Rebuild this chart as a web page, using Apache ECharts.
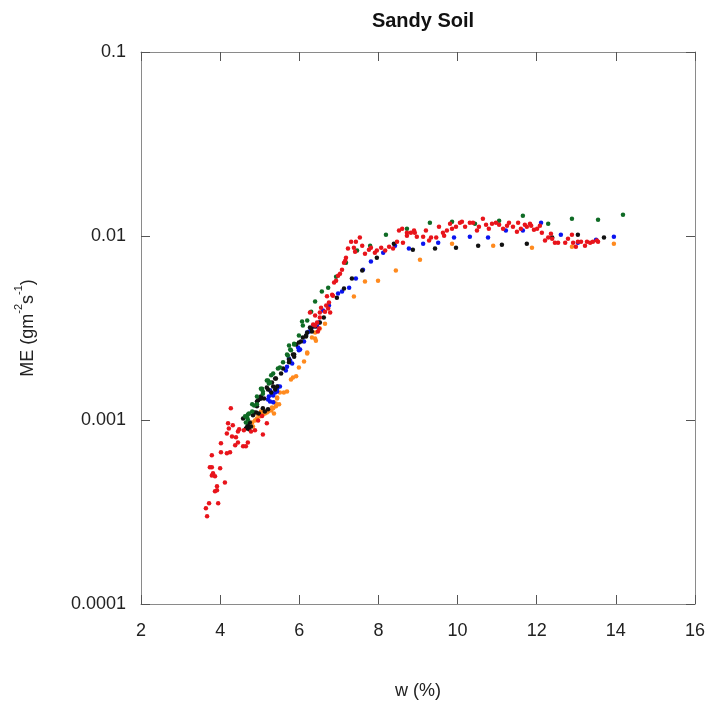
<!DOCTYPE html>
<html>
<head>
<meta charset="utf-8">
<script src="https://cdn.jsdelivr.net/npm/echarts@6/dist/echarts.min.js"></script>
<style>
  html, body { margin: 0; padding: 0; background: #fff; }
  #chart { width: 709px; height: 705px; }
</style>
</head>
<body>
<div id="chart"></div>
<script>
// Moisture content w (%) against evaporation ME (g m^-2 s^-1), five runs on sandy soil.

const xTicks = { min: 2, max: 16, step: 2 };
const yTickLabels = ['0.0001', '0.001', '0.01', '0.1'];

const redPoints = [
  [4.27,0.00116],[4.20,0.00096],[4.32,0.000935],[4.22,0.0009],[4.48,0.00089],[4.45,0.000867],[4.60,0.00088],
  [4.17,0.000845],[4.30,0.000814],[4.40,0.000805],[4.45,0.000755],[4.38,0.000728],[4.70,0.000755],[4.58,0.000719],
  [4.65,0.000719],[4.02,0.000747],[4.02,0.000667],[4.17,0.000659],[4.25,0.000667],[3.79,0.000643],[3.74,0.000553],
  [3.79,0.000553],[4.00,0.000546],[3.82,0.000513],[3.79,0.0005],[3.87,0.000494],[4.12,0.000458],[3.92,0.000436],
  [3.92,0.000415],[3.87,0.00041],[3.72,0.000353],[3.95,0.000353],[3.64,0.000331],[3.67,0.0003],[5.08,0.000835],
  [5.18,0.00096],[4.96,0.000995],[4.88,0.00088],[4.78,0.000867],[5.06,0.00105],
  [6.70,0.0047],[6.75,0.00435],[6.68,0.00419],[6.55,0.00408],[6.65,0.00388],[6.52,0.00384],[6.40,0.0037],
  [6.52,0.00361],[6.45,0.00339],[6.35,0.0033],[6.40,0.00326],[6.50,0.00314],[6.73,0.00403],[6.78,0.00384],
  [6.27,0.00384],[6.47,0.00303],
  [7.53,0.0098],[7.43,0.0093],[7.31,0.0093],[7.59,0.00886],[7.38,0.00864],[7.23,0.00854],[7.41,0.00822],
  [7.66,0.00802],[7.18,0.00762],[7.16,0.00734],[7.13,0.00716],[7.08,0.00656],[7.03,0.00624],[6.98,0.00609],
  [6.93,0.00572],[6.88,0.00558],[6.83,0.0048],[6.85,0.00474],[7.76,0.00843],[7.81,0.00864],[7.91,0.00812],
  [7.96,0.00833],[8.07,0.00864],[8.17,0.00833],[8.27,0.00875],[8.37,0.00854],[8.47,0.0093],[8.62,0.0092],
  [8.52,0.0107],[8.60,0.01096],[8.72,0.01042],[8.72,0.01004],[8.82,0.01042],[8.90,0.0107],[8.92,0.01042],
  [8.97,0.0099],
  [9.13,0.0099],[9.20,0.0107],[9.28,0.00944],[9.33,0.0098],[9.46,0.0098],[9.53,0.01122],[9.63,0.01042],
  [9.66,0.01004],[9.73,0.0107],[9.81,0.01166],[9.86,0.01096],[9.96,0.01122],[10.06,0.0118],
  [10.11,0.01197],[10.19,0.01122],[10.31,0.0118],[10.39,0.0118],[10.49,0.0107],[10.54,0.01122],[10.64,0.01242],
  [10.72,0.0115],[10.79,0.01096],[10.87,0.01166],[10.97,0.0118],[11.05,0.0115],[11.15,0.01096],[11.25,0.01137],
  [11.30,0.0118],[11.40,0.01122],[11.50,0.01055],[11.53,0.0118],[11.60,0.01096],[11.70,0.0115],[11.75,0.01122],
  [11.83,0.01166],[11.86,0.01137],[11.93,0.0108],[12.01,0.01096],[12.08,0.01137],[12.13,0.01042],[12.21,0.00944],
  [12.29,0.0098],[12.36,0.01028],[12.39,0.00967],[12.46,0.0092],[12.54,0.0092],[12.72,0.0092],[12.79,0.00967],
  [12.89,0.01016],[12.92,0.0092],[12.99,0.00875],[13.04,0.0093],[13.12,0.0093],[13.22,0.00886],[13.27,0.0093],
  [13.35,0.0092],[13.42,0.0093],[13.52,0.00944],[13.55,0.0093]
];

const greenPoints = [
  [5.46,0.001905],[5.34,0.00179],[5.21,0.00164],[5.26,0.0016],[5.06,0.00148],[5.08,0.00143],[5.08,0.00139],
  [4.93,0.001216],[4.86,0.0012],[4.81,0.001113],[4.73,0.001086],[4.68,0.001033],[4.70,0.001007],[4.65,0.00097],
  [6.40,0.0044],[6.30,0.00388],[6.20,0.00347],[6.09,0.00326],[5.99,0.00288],[5.87,0.0026],[5.74,0.00254],
  [5.79,0.00239],[5.71,0.00224],[5.59,0.00206],[5.51,0.00193],[5.29,0.00175],[5.18,0.00164],[5.23,0.00158],
  [5.03,0.00148],[4.93,0.00134],[4.81,0.001216],[4.70,0.001072],[4.63,0.001047],
  [6.57,0.00499],[6.07,0.00343],[5.87,0.00257],[5.77,0.00242],[5.69,0.00227],
  [8.19,0.01016],[7.79,0.00886],[7.46,0.00833],[7.18,0.00716],[6.93,0.00601],[6.73,0.00524],
  [8.72,0.01096],[9.30,0.0118],[9.86,0.01197],[10.44,0.01166],[11.05,0.01211],[11.65,0.01288],[12.29,0.01166],
  [12.89,0.01242],[13.55,0.01227],[14.18,0.01305]
];

const blackPoints = [
  [5.41,0.00168],[5.31,0.0016],[5.34,0.00152],[5.18,0.0015],[5.21,0.001466],[5.03,0.00134],[5.01,0.00131],
  [4.93,0.00126],[5.13,0.001113],[4.98,0.001086],[4.83,0.00106],[4.91,0.0011],[4.75,0.00097],[4.70,0.000935],
  [4.68,0.000912],[4.78,0.000923],[4.65,0.0009],[4.73,0.00089],
  [6.30,0.00314],[6.20,0.00299],[6.17,0.00284],[6.04,0.00267],[5.92,0.00257],[5.87,0.00227],[5.74,0.00213],
  [5.74,0.00206],[5.59,0.001905],[5.54,0.00179],[5.39,0.00168],[5.44,0.00152],[5.39,0.001466],[5.29,0.00141],
  [5.11,0.00131],[5.03,0.00131],[4.96,0.00128],[5.08,0.00116],[4.93,0.001186],[5.21,0.001143],[4.86,0.0011],
  [4.58,0.00102],
  [6.62,0.00361],[6.52,0.00339],[6.40,0.00322],[6.27,0.00318],[6.32,0.00303],[6.17,0.00288],[6.09,0.00281],
  [5.99,0.00264],[5.84,0.00227],[5.87,0.00221],
  [8.39,0.00908],[7.96,0.00762],[7.59,0.00649],[7.33,0.00587],[7.13,0.00518],[6.95,0.00462],
  [8.87,0.00843],[9.43,0.00854],[9.96,0.00864],[10.52,0.00886],[11.12,0.00897],[11.75,0.00908],[12.39,0.0098],
  [13.04,0.01016],[13.70,0.0098]
];

const bluePoints = [
  [5.51,0.00152],[5.44,0.00148],[5.39,0.00141],[5.31,0.001377],[5.23,0.00134],[5.26,0.00126],[5.34,0.00125],
  [6.50,0.00339],[6.45,0.00322],[6.20,0.00299],[6.12,0.00267],[5.97,0.00248],[6.02,0.00242],[5.77,0.0021],
  [5.82,0.00203],[5.69,0.00195],[5.66,0.00186],[5.46,0.00152],[5.44,0.00143],[5.26,0.00145],[5.34,0.00136],
  [5.21,0.001294],
  [6.75,0.00419],[6.60,0.00394],[6.35,0.00322],[6.25,0.00303],[5.99,0.00239],[5.74,0.00216],
  [8.77,0.00854],[8.42,0.00886],[8.12,0.00812],[7.81,0.00726],[7.61,0.00656],[7.43,0.00587],[7.26,0.00524],
  [7.08,0.00499],[6.98,0.00487],
  [9.13,0.00908],[9.51,0.0092],[9.91,0.0098],[10.31,0.0099],[10.77,0.0098],[11.22,0.0107],[11.65,0.0107],
  [12.11,0.0118],[12.61,0.01016],[13.04,0.0092],[13.50,0.00955],[13.95,0.0099]
];

const orangePoints = [
  [5.49,0.001216],[5.41,0.001186],[5.34,0.00116],[5.29,0.001127],[5.21,0.001113],[5.13,0.001086],[5.08,0.001072],
  [5.01,0.001047],[4.93,0.00102],[4.88,0.000995],[4.81,0.00097],[4.83,0.000923],[5.03,0.001113],[4.96,0.001072],
  [5.44,0.001327],[5.36,0.00125],
  [6.40,0.00277],[6.20,0.0023],[6.12,0.00208],[5.99,0.00193],[5.92,0.00173],[5.84,0.0017],[5.79,0.00166],
  [5.69,0.00143],[5.61,0.00141],[5.51,0.00141],[5.44,0.00131],[5.41,0.00123],[5.31,0.00117],[5.18,0.0011],
  [5.06,0.001072],[5.11,0.001113],[5.36,0.001086],
  [6.65,0.00334],[6.52,0.00314],[6.40,0.00299],[6.32,0.00281],[6.42,0.0027],[6.20,0.00233],
  [9.05,0.00743],[8.44,0.00649],[7.99,0.00572],[7.66,0.00565],[7.38,0.00469],
  [9.86,0.00908],[10.90,0.00886],[11.88,0.00864],[12.89,0.00875],[13.95,0.00908]
];

const FONT = '"Liberation Sans", Arial, sans-serif';
const frameColor = '#8a8a8a';
const tickColor = '#555';

function scatter(name, data, color) {
  return {
    name: name,
    type: 'scatter',
    data: data,
    symbol: 'circle',
    symbolSize: 4.5,
    itemStyle: { color: color, opacity: 1 },
    emphasis: { disabled: true },
    animation: false
  };
}

const xBase = {
  type: 'value',
  min: xTicks.min,
  max: xTicks.max,
  interval: xTicks.step,
  splitLine: { show: false },
  axisLine: { show: true, onZero: false, lineStyle: { color: frameColor, width: 1 } },
  axisTick: { show: true, inside: true, length: 9, lineStyle: { color: tickColor } }
};

const yBase = {
  type: 'log',
  logBase: 10,
  min: 0.0001,
  max: 0.1,
  splitLine: { show: false },
  minorTick: { show: false },
  axisLine: { show: true, onZero: false, lineStyle: { color: frameColor, width: 1 } },
  axisTick: { show: true, inside: true, length: 9, lineStyle: { color: tickColor } }
};

const chart = echarts.init(document.getElementById('chart'), null, { renderer: 'canvas' });
chart.setOption({
  backgroundColor: '#ffffff',
  animation: false,
  title: {
    text: 'Sandy Soil',
    left: 418,
    top: 6,
    textAlign: 'center',
    textStyle: { fontFamily: FONT, fontSize: 20, fontWeight: 'bold', color: '#111' }
  },
  grid: { left: 141, right: 14, top: 52, bottom: 100, containLabel: false },
  xAxis: [
    Object.assign({}, xBase, {
      position: 'bottom',
      name: 'w (%)',
      nameLocation: 'middle',
      nameGap: 78,
      nameTextStyle: { fontFamily: FONT, fontSize: 18, color: '#222' },
      axisLabel: { show: true, margin: 18, fontFamily: FONT, fontSize: 18, color: '#222' }
    }),
    Object.assign({}, xBase, { position: 'top', axisLabel: { show: false } })
  ],
  yAxis: [
    Object.assign({}, yBase, {
      position: 'left',
      name: '{a|ME (gm}{s|-2}{a|s}{s|-1}{a|)}',
      nameLocation: 'middle',
      nameRotate: 90,
      nameGap: 104,
      nameTextStyle: {
        rich: {
          a: { fontFamily: FONT, fontSize: 18, color: '#222', lineHeight: 24, verticalAlign: 'bottom' },
          s: { fontFamily: FONT, fontSize: 11, color: '#222', lineHeight: 24, verticalAlign: 'top' }
        }
      },
      axisLabel: {
        show: true,
        margin: 15,
        fontFamily: FONT,
        fontSize: 18,
        color: '#222',
        formatter: function (v) {
          return yTickLabels[Math.round(Math.log10(v)) + 4];
        }
      }
    }),
    Object.assign({}, yBase, { position: 'right', axisLabel: { show: false } })
  ],
  series: [
    scatter('orange', orangePoints, '#ff8a1e'),
    scatter('blue', bluePoints, '#0a14f0'),
    scatter('black', blackPoints, '#111111'),
    scatter('green', greenPoints, '#0f6b25'),
    scatter('red', redPoints, '#e8141b')
  ]
});
</script>
</body>
</html>
